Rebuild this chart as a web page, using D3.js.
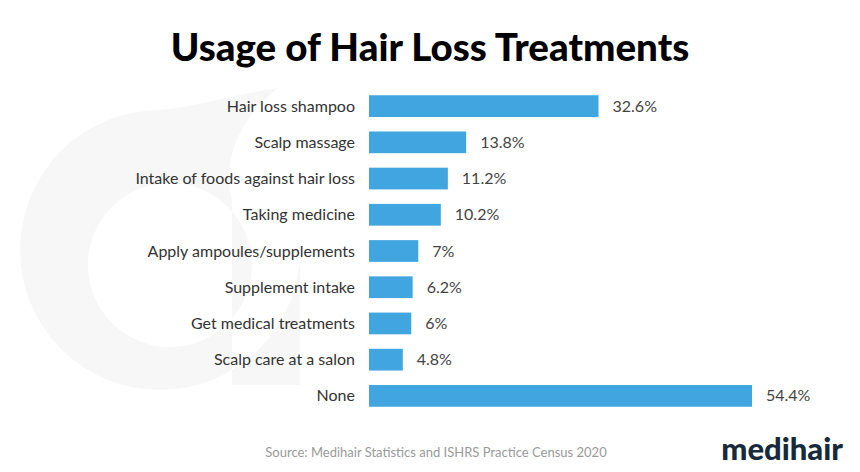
<!DOCTYPE html>
<html>
<head>
<meta charset="utf-8">
<script src="https://cdn.jsdelivr.net/npm/d3@7"></script>
<style>
  body { margin: 0; background: #fff; }
  svg { display: block; }
</style>
</head>
<body>
<div id="chart"></div>
<script>
var categories = ["Hair loss shampoo", "Scalp massage", "Intake of foods against hair loss",
    "Taking medicine", "Apply ampoules/supplements", "Supplement intake",
    "Get medical treatments", "Scalp care at a salon", "None"];
var values = [32.6, 13.8, 11.2, 10.2, 7, 6.2, 6, 4.8, 54.4];
var valueLabels = ["32.6%", "13.8%", "11.2%", "10.2%", "7%", "6.2%", "6%", "4.8%", "54.4%"];

var width = 860, height = 472;

var svg = d3.select('#chart').append('svg')
    .attr("width", width)
    .attr("height", height)

// faint logo watermark in the background
var wm = svg.append("g").attr("fill", "#f6f7f6");
wm.append("path")
    .attr("fill-rule", "evenodd")
    .attr("d", "M160,110 A140,140 0 1 0 300,250 L300,385 L232,385 L232,200 " +
        "C220,150 250,110 278,88 C230,95 190,108 160,110 Z " +
        "M170,183 A82,82 0 1 1 169.9,183 Z")

var x = d3.scaleLinear()
    .domain([0, 54.4])
    .range([369, 752]);

var y = d3.scaleBand()
    .domain(categories)
    .range([88, 414])
    .paddingInner(0.4)
    .paddingOuter(0.2);

svg.append("text")
    .attr("x", 430)
    .attr("y", 61)
    .attr("text-anchor", "middle")
    .style("font-family", "Lato")
    .style("font-weight", 900)
    .style("font-size", "38.5px")
    .style("fill", "#000")
    .text("Usage of Hair Loss Treatments")

var rows = svg.selectAll(".row")
    .data(categories)
    .enter().append("g")
    .attr("class", "row")

rows.append("rect")
    .attr("x", x(0))
    .attr("y", function(d) { return y(d) })
    .attr("width", function(d, i) { return x(values[i]) - x(0) })
    .attr("height", y.bandwidth())
    .style("fill", "#41a5e0")

rows.append("text")
    .attr("x", x(0) - 14)
    .attr("y", function(d) { return y(d) + y.bandwidth() / 2 })
    .attr("dy", "0.35em")
    .attr("text-anchor", "end")
    .style("font-family", "Lato")
    .style("font-size", "16px")
    .style("fill", "#333")
    .text(function(d) { return d })

rows.append("text")
    .attr("x", function(d, i) { return x(values[i]) + 14 })
    .attr("y", function(d) { return y(d) + y.bandwidth() / 2 })
    .attr("dy", "0.35em")
    .style("font-family", "Lato")
    .style("font-size", "16px")
    .style("fill", "#444")
    .text(function(d, i) { return valueLabels[i] })

svg.append("text")
    .attr("x", 436)
    .attr("y", 457)
    .attr("text-anchor", "middle")
    .style("font-family", "Lato")
    .style("font-size", "13px")
    .style("fill", "#999")
    .text("Source: Medihair Statistics and ISHRS Practice Census 2020")

svg.append("text")
    .attr("x", 843)
    .attr("y", 460)
    .attr("text-anchor", "end")
    .style("font-family", "Lato")
    .style("font-weight", 900)
    .style("font-size", "31px")
    .style("fill", "#172a3c")
    .text("medihair")
</script>
</body>
</html>
